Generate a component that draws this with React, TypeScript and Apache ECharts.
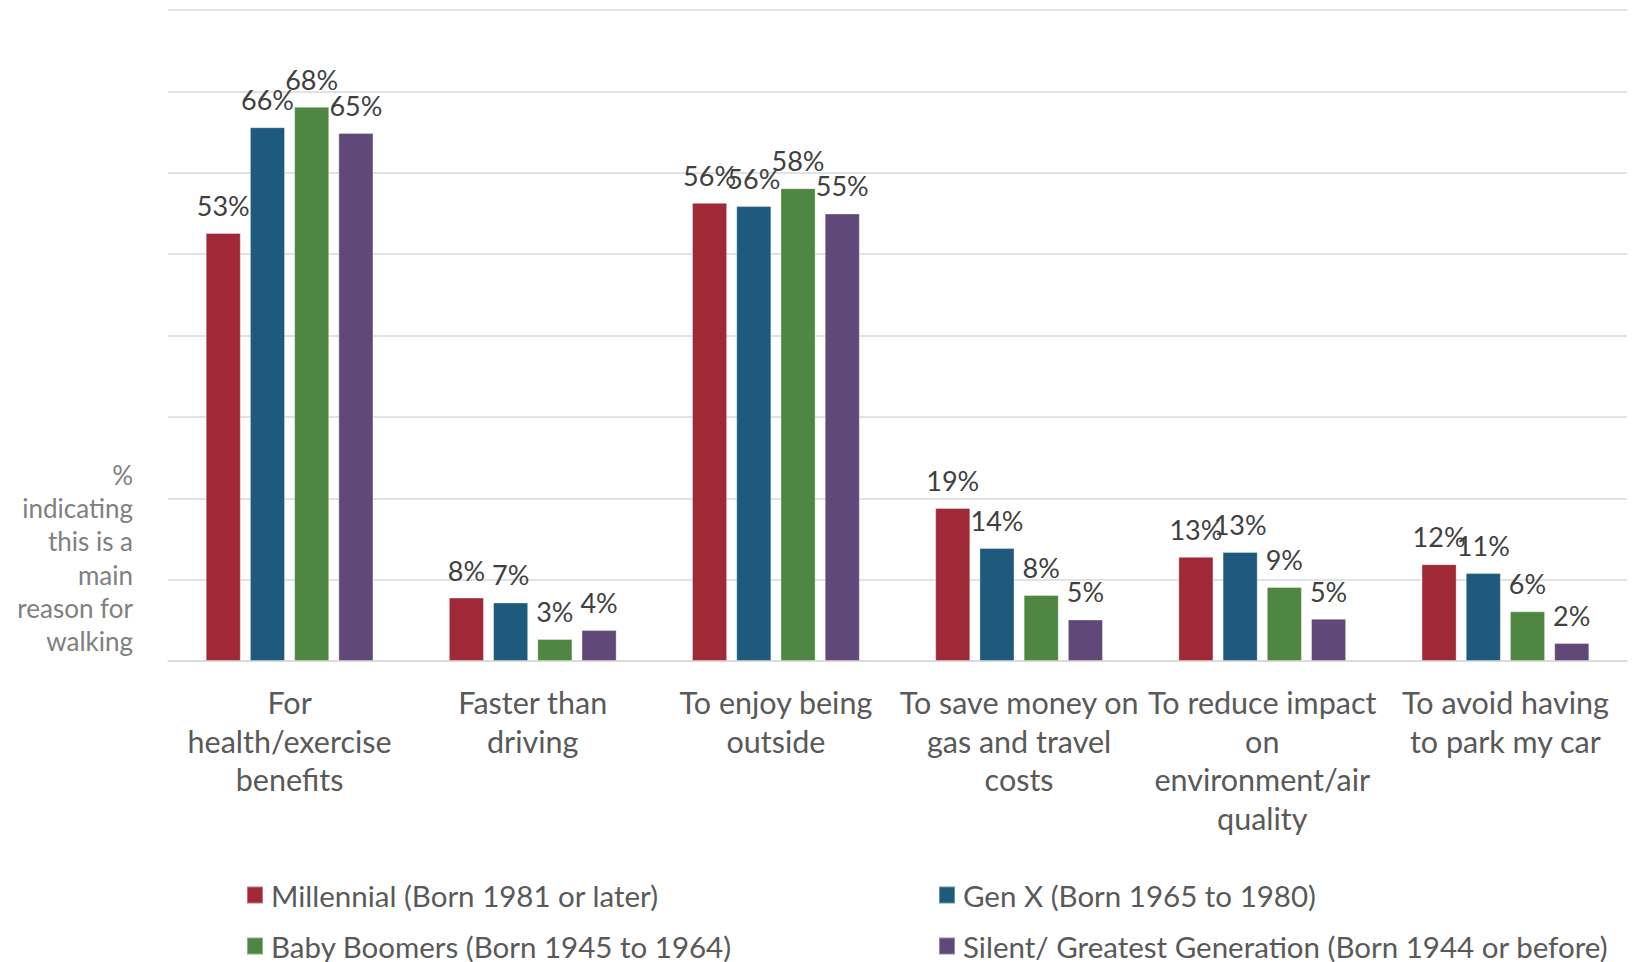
import React, { useEffect, useRef } from "react";
import * as echarts from "echarts";

const categories = [
  "For\nhealth/exercise\nbenefits",
  "Faster than\ndriving",
  "To enjoy being\noutside",
  "To save money on\ngas and travel\ncosts",
  "To reduce impact\non\nenvironment/air\nquality",
  "To avoid having\nto park my car",
];

const seriesNames = [
  "Millennial (Born 1981 or later)",
  "Gen X (Born 1965 to 1980)",
  "Baby Boomers (Born 1945 to 1964)",
  "Silent/ Greatest Generation (Born 1944 or before)",
];

const millennial = [52.6, 7.8, 56.3, 18.8, 12.8, 11.9];
const genX = [65.6, 7.2, 55.9, 13.9, 13.4, 10.8];
const boomers = [68.1, 2.7, 58.1, 8.1, 9.1, 6.1];
const silent = [64.9, 3.8, 55.0, 5.1, 5.2, 2.2];

const colors = ["#A02937", "#1D5A7C", "#4E8642", "#604878"];
const yAxisName = "%\nindicating\nthis is a\nmain\nreason for\nwalking";

const FONT = "Lato";

// legend placement: [left, top] for each series
const legendPos: [number, number][] = [
  [246, 880],
  [938, 880],
  [246, 931],
  [938, 931],
];

export default function App() {
  const ref = useRef<HTMLDivElement>(null);
  useEffect(() => {
    document.body.style.margin = "0";
    if (!ref.current) return;
    const chart = echarts.init(ref.current, null, { renderer: "svg" });
    const values = [millennial, genX, boomers, silent];
    chart.setOption({
      animation: false,
      textStyle: { fontFamily: FONT },
      grid: { left: 168, right: 10, top: 10, bottom: 301, containLabel: false },
      xAxis: {
        type: "category",
        data: categories,
        axisLine: { show: true, lineStyle: { color: "#d9d9d9", width: 1.5 } },
        axisTick: { show: false },
        axisLabel: {
          interval: 0,
          margin: 22,
          fontSize: 30.5,
          lineHeight: 38.5,
          color: "#595959",
          fontFamily: FONT,
          align: "center",
        },
      },
      yAxis: {
        type: "value",
        min: 0,
        max: 80,
        interval: 10,
        axisLabel: { show: false },
        axisLine: { show: false },
        axisTick: { show: false },
        splitLine: { lineStyle: { color: "#d9d9d9", width: 1.5 } },
      },
      legend: seriesNames.map((name, i) => ({
        orient: "horizontal",
        left: legendPos[i][0],
        top: legendPos[i][1],
        padding: 0,
        itemWidth: 16,
        itemHeight: 17,
        icon: "rect",
        data: [name],
        textStyle: { fontSize: 29.5, lineHeight: 30, color: "#595959", fontFamily: FONT, padding: [0, 0, 0, 3] },
      })),
      graphic: [
        {
          type: "text",
          x: 133,
          y: 458,
          style: {
            text: yAxisName,
            fontSize: 26,
            lineHeight: 33.3,
            fill: "#808080",
            fontFamily: FONT,
            textAlign: "right",
            align: "right",
            verticalAlign: "top",
          },
        },
      ],
      series: seriesNames.map((name, i) => ({
        name,
        type: "bar",
        data: values[i],
        barGap: "26%",
        barCategoryGap: "31%",
        itemStyle: { color: colors[i], borderColor: "rgba(255,255,255,0.35)", borderWidth: 1 },
        label: {
          show: true,
          position: "top",
          distance: 14,
          fontSize: 27,
          color: "#404040",
          fontFamily: FONT,
          formatter: (p: any) => `${Math.round(p.value)}%`,
        },
      })),
    });
    return () => chart.dispose();
  }, []);
  return <div ref={ref} style={{ width: 1637, height: 962 }} />;
}
